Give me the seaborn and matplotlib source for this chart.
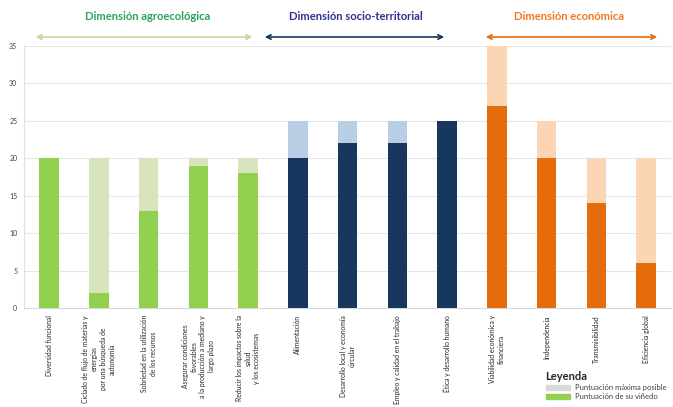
import numpy as np
import pandas as pd
import seaborn as sns
import matplotlib.pyplot as plt
from matplotlib.patches import Patch

categorias = [
    "Diversidad funcional",
    "Ciclado de flujo de materias y\nenergías\npor una búsqueda de\nautonomía",
    "Sobriedad en la utilización\nde los recursos",
    "Asegurar condiciones\nfavorables\na la producción a mediano y\nlargo plazo",
    "Reducir los impactos sobre la\nsalud\ny los ecosistemas",
    "Alimentación",
    "Desarrollo local y economía\ncircular",
    "Empleo y calidad en el trabajo",
    "Ética y desarrollo humano",
    "Viabilidad económica y\nfinanciera",
    "Independencia",
    "Transmisibilidad",
    "Eficiencia global",
]
dimension = ["agro"] * 5 + ["socio"] * 4 + ["eco"] * 4
puntuacion_max = [20, 20, 20, 20, 20, 25, 25, 25, 25, 35, 25, 20, 20]
puntuacion = [20, 2, 13, 19, 18, 20, 22, 22, 25, 27, 20, 14, 6]

dimensiones = ["Dimensión agroecológica", "Dimensión socio-territorial", "Dimensión económica"]

col_fuerte = {"agro": "#92d050", "socio": "#17375e", "eco": "#e46c0a"}
col_suave = {"agro": "#d8e4bc", "socio": "#b9cde5", "eco": "#fcd5b5"}
col_titulo = {"agro": "#2aa35c", "socio": "#2e3192", "eco": "#f07820"}

df = pd.DataFrame({"cat": categorias, "dim": dimension,
                   "max": puntuacion_max, "val": puntuacion})

sns.set_style("white")
plt.rcParams["font.family"] = ["Lato", "DejaVu Sans"]

fig = plt.figure(figsize=(6.73, 4.07), dpi=100)
ax = fig.add_axes([0.036, 0.243, 0.961, 0.644])

sns.barplot(data=df, x="cat", y="max", hue="cat", legend=False,
            palette=[col_suave[d] for d in dimension], width=0.39,
            saturation=1, linewidth=0, ax=ax, zorder=2)
sns.barplot(data=df, x="cat", y="val", hue="cat", legend=False,
            palette=[col_fuerte[d] for d in dimension], width=0.39,
            saturation=1, linewidth=0, ax=ax, zorder=3)

ax.set_xlim(-0.5, 12.5)
ax.set_ylim(0, 35)
ax.set_yticks(range(0, 36, 5))
ax.yaxis.grid(True, color="#e6e6e6", linewidth=0.8, zorder=0)
ax.set_axisbelow(True)
ax.set_xlabel("")
ax.set_ylabel("")
for s in ["top", "right"]:
    ax.spines[s].set_visible(False)
ax.spines["left"].set_color("#e0e0e0")
ax.spines["bottom"].set_color("#d9d9d9")
ax.tick_params(axis="y", labelsize=5, colors="#404040", length=3, color="#e0e0e0", pad=2)
ax.set_xticks(range(13))
ax.set_xticklabels(categorias, rotation=90, fontsize=4.9, color="#262626",
                   multialignment="center", linespacing=1.3)
ax.tick_params(axis="x", length=0, pad=5)
ax.set_xticks(np.arange(-0.5, 13, 1), minor=True)
ax.tick_params(axis="x", which="minor", length=4, color="#d9d9d9")

# encabezados de dimensión y flechas
tramos = [("agro", 33, 255), ("socio", 262, 447), ("eco", 483, 660)]
centros = [148, 356, 569]
W, H = 673, 407
for (d, x0, x1), nombre, xc in zip(tramos, dimensiones, centros):
    fig.text(xc / W, 1 - 16 / H, nombre, ha="center", va="center",
             fontsize=8.1, fontweight="bold", color=col_titulo[d])
    fig.add_artist(plt.Annotation("", xy=(x0 / W, 1 - 37 / H), xytext=(x1 / W, 1 - 37 / H),
                                  xycoords="figure fraction", textcoords="figure fraction",
                                  arrowprops=dict(arrowstyle="<->", color=col_fuerte[d] if d != "agro" else "#c4d79b",
                                                  lw=1.2, mutation_scale=8)))

# leyenda
fig.text(545 / W, 1 - 377 / H, "Leyenda", fontsize=8, fontweight="bold", color="#262626",
         va="center")
leg = fig.legend(handles=[Patch(color="#d9d9d9", label="Puntuación máxima posible"),
                          Patch(color="#92d050", label="Puntuación de su viñedo")],
                 loc="upper left", bbox_to_anchor=(546 / W, 1 - 384 / H), frameon=False,
                 fontsize=5.5, handlelength=3.2, handleheight=0.7, handletextpad=0.6,
                 labelspacing=0.3, borderpad=0, borderaxespad=0)
for t in leg.get_texts():
    t.set_color("#404040")

fig.savefig("out.png", dpi=100)
